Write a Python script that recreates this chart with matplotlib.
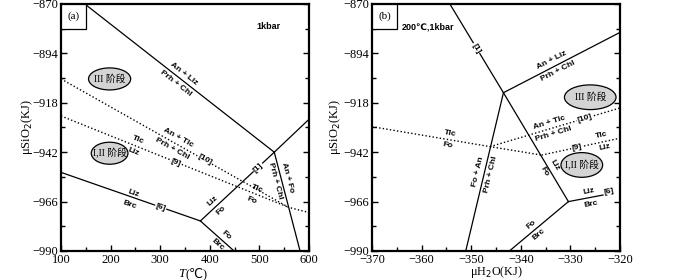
import numpy as np
import matplotlib
matplotlib.use("Agg")
import matplotlib.pyplot as plt
from matplotlib.patches import Ellipse, Rectangle

SERIF = ["Liberation Serif", "DejaVu Sans", "Noto Sans CJK SC"]
BOLD = ["Liberation Sans", "DejaVu Sans"]
CJK = ["Liberation Serif", "Noto Sans CJK SC"]

# ---- panel (a): T vs muSiO2 ----
a_yticks = [-870, -894, -918, -942, -966, -990]
a_xticks = [100, 200, 300, 400, 500, 600]
# solid reaction lines (T, muSiO2)
a_anliz = ([148, 530], [-870, -942])
a_right = ([530, 600], [-942, -926])
a_anfo = ([530, 582], [-942, -990])
a_r1 = ([381, 530], [-975.4, -942])
a_lizbrc = ([100, 381], [-951.8, -975.4])
a_fobrc = ([381, 449], [-975.4, -990])
# dotted reaction lines
a_r10 = ([100, 559, 600], [-906.4, -968.8, -971.3])
a_r9 = ([100, 456, 559], [-924.4, -958.8, -968.8])
a_stages = [("III 阶段", 198, -906.4, 85, 10.7), ("I,II 阶段", 198, -942.5, 74, 10.7)]

# ---- panel (b): muH2O vs muSiO2 ----
b_xticks = [-370, -360, -350, -340, -330, -320]
b_r1 = ([-354.3, -343.5, -330.4], [-870, -913.1, -966])
b_anliz = ([-343.5, -320], [-913.1, -883.8])
b_foan = ([-343.5, -351.1], [-913.1, -990])
b_lizbrc = ([-330.4, -323.4], [-966, -962.8])
b_fobrc = ([-330.4, -342.3], [-966, -990])
b_tlcfo = ([-370, -346.2, -335.8], [-929.6, -939.3, -943.4])
b_r9 = ([-335.8, -320], [-943.4, -935.2])
b_r10 = ([-346.2, -320], [-939.3, -920.5])
b_stages = [("III 阶段", -326.0, -915.3, 10.4, 12.0), ("I,II 阶段", -327.7, -948.2, 8.4, 12.0)]

fig = plt.figure(figsize=(7, 2.8), dpi=100)
ax1 = fig.add_axes([61 / 700, 1 - 251 / 280, 248 / 700, 247 / 280])
ax2 = fig.add_axes([372 / 700, 1 - 251 / 280, 248 / 700, 247 / 280])

solid = dict(color="black", lw=0.9)
dotted = dict(color="black", lw=1.0, linestyle=(0, (1, 1.6)))


def pair(ax, x, y, top, bot, ang, off=4.5, fs=6):
    r = np.radians(ang)
    for txt, s in ((top, 1), (bot, -1)):
        ax.annotate(txt, (x, y), xytext=(-np.sin(r) * off * s, np.cos(r) * off * s),
                    textcoords="offset points", ha="center", va="center",
                    rotation=ang, fontsize=fs, fontweight="bold", family=BOLD)


def tag(ax, x, y, txt, ang, fs=6):
    ax.text(x, y, txt, ha="center", va="center", rotation=ang, fontsize=fs,
            fontweight="bold", family=BOLD,
            bbox=dict(facecolor="white", edgecolor="none", pad=0.4))


def style(ax, xlim, xticks, minor, ylpad):
    ax.set_xlim(*xlim)
    ax.set_ylim(-990, -870)
    ax.set_xticks(xticks)
    ax.set_yticks(a_yticks)
    ax.set_xticks(minor, minor=True)
    ax.set_yticks(np.arange(-990, -869, 12), minor=True)
    ax.tick_params(which="both", direction="in", right=True, top=False, labelsize=9)
    ax.tick_params(axis="x", pad=2.5)
    ax.tick_params(axis="y", pad=2)
    ax.tick_params(which="major", length=4, width=1)
    ax.tick_params(which="minor", length=3, width=1)
    for lab in ax.get_xticklabels() + ax.get_yticklabels():
        lab.set_family(SERIF)
    for s in ax.spines.values():
        s.set_linewidth(1.6)
    ax.set_ylabel("μSiO$_2$(KJ)", family=SERIF, fontsize=9, labelpad=ylpad)


def stages(ax, items):
    for txt, x, y, w, h in items:
        ax.add_patch(Ellipse((x, y), w, h, facecolor="#d4d4d4", edgecolor="black", lw=0.9, zorder=3))
        ax.text(x, y, txt, ha="center", va="center", fontsize=7, family=CJK, zorder=4)


def corner(ax, txt):
    ax.add_patch(Rectangle((0, 0.9), 0.1, 0.1, transform=ax.transAxes, facecolor="white",
                           edgecolor="black", lw=0.9, zorder=5))
    ax.text(0.05, 0.95, txt, transform=ax.transAxes, ha="center", va="center",
            fontsize=8, family=SERIF, zorder=6)


# panel (a)
for xs, ys in (a_anliz, a_right, a_anfo, a_r1, a_lizbrc, a_fobrc):
    ax1.plot(xs, ys, **solid)
for xs, ys in (a_r10, a_r9):
    ax1.plot(xs, ys, **dotted)
style(ax1, (100, 600), a_xticks, np.arange(150, 600, 100), -2)
# x label "T(℃)" with italic T, as two texts so the ℃ glyph has a font
ax1.text(0.5, -0.068, "T", transform=ax1.transAxes, ha="right", va="top",
         fontsize=9, family=SERIF, style="italic")
ax1.text(0.5, -0.068, "(℃)", transform=ax1.transAxes, ha="left", va="top",
         fontsize=9, family=SERIF)
stages(ax1, a_stages)
corner(ax1, "(a)")
ax1.text(0.835, 0.907, "1kbar", transform=ax1.transAxes, ha="center", va="center",
         fontsize=6.5, fontweight="bold", family=BOLD)
pair(ax1, 340, -906.2, "An + Liz", "Prh + Chl", -38)
pair(ax1, 330, -937.7, "An + Tlc", "Prh + Chl", -29)
tag(ax1, 390, -945.5, "[10]", -29)
pair(ax1, 250, -938.9, "Tlc", "Liz", -22)
tag(ax1, 332, -947, "[9]", -22)
pair(ax1, 242, -964.7, "Liz", "Brc", -19)
tag(ax1, 301, -968.7, "[6]", -19)
tag(ax1, 497, -949.4, "[1]", 43)
pair(ax1, 414, -968, "Liz", "Fo", 43)
pair(ax1, 490, -962.5, "Tlc", "Fo", -22)
pair(ax1, 544, -955, "An + Fo", "Prh + Chl", -75)
pair(ax1, 425, -984.8, "Fo", "Brc", -42)

# panel (b)
for xs, ys in (b_r1, b_anliz, b_foan, b_lizbrc, b_fobrc):
    ax2.plot(xs, ys, **solid)
for xs, ys in (b_tlcfo, b_r9, b_r10):
    ax2.plot(xs, ys, **dotted)
style(ax2, (-370, -320), b_xticks, np.arange(-365, -320, 10), 0)
ax2.set_xlabel("μH$_2$O(KJ)", family=SERIF, fontsize=8.7, labelpad=-1.5)
stages(ax2, b_stages)
corner(ax2, "(b)")
ax2.text(0.12, 0.907, "200℃,1kbar", transform=ax2.transAxes, ha="left", va="center",
         fontsize=6.5, fontweight="bold", family=BOLD)
tag(ax2, -348.95, -891.5, "[1]", -59)
pair(ax2, -333.1, -900.1, "An + Liz", "Prh + Chl", 27)
pair(ax2, -333.8, -930.4, "An + Tlc", "Prh + Chl", 17)
tag(ax2, -327.1, -925.8, "[10]", 17)
pair(ax2, -354.5, -935.9, "Tlc", "Fo", -9.5)
tag(ax2, -328.7, -939.7, "[9]", 12)
pair(ax2, -323.4, -936.9, "Tlc", "Liz", 12)
pair(ax2, -334.2, -949.8, "Liz", "Fo", -59)
pair(ax2, -347.35, -952, "Fo + An", "Prh + Chl", 76.6)
pair(ax2, -326.0, -964.1, "Liz", "Brc", 11)
tag(ax2, -322.2, -961.2, "[6]", 11)
pair(ax2, -337.1, -979.5, "Fo", "Brc", 40)

fig.savefig("out.png", dpi=100)
